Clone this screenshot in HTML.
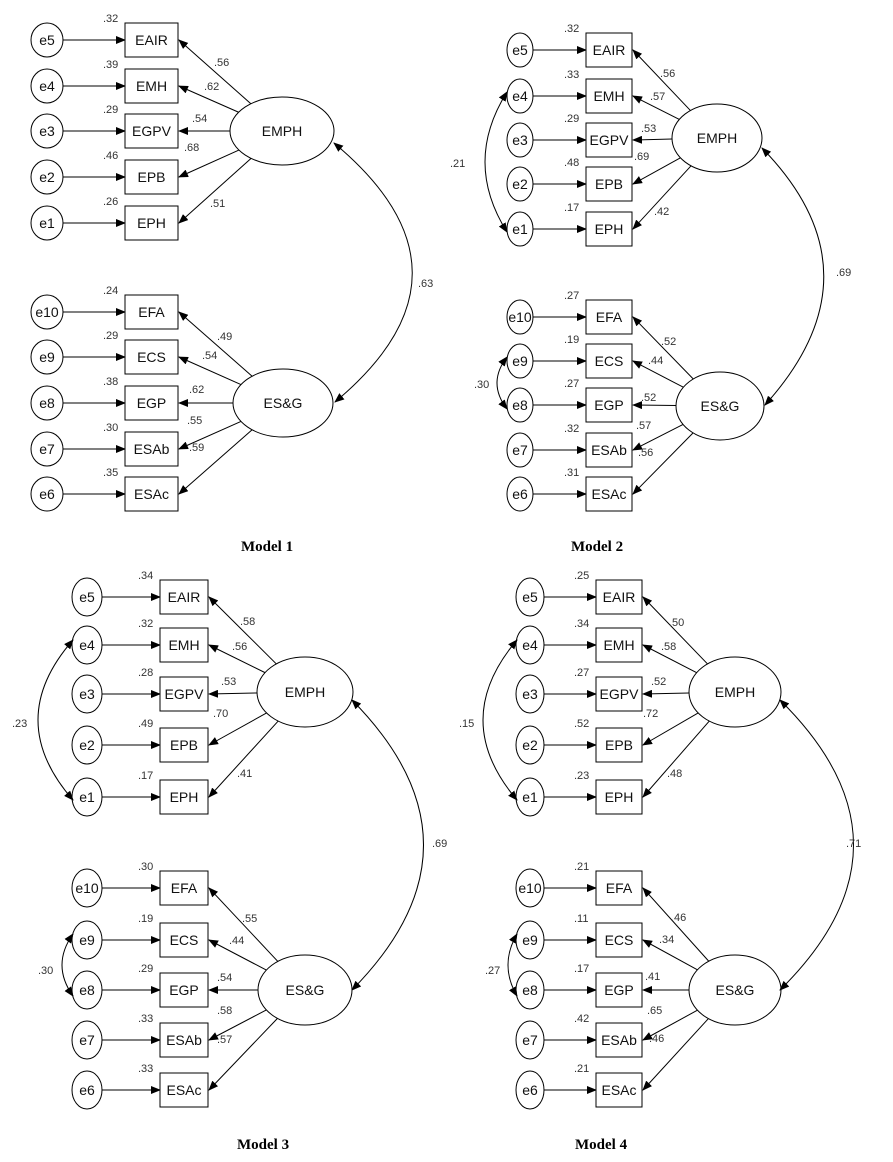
<!DOCTYPE html>
<html><head><meta charset="utf-8"><style>
html,body{margin:0;padding:0;background:#fff;}
svg{display:block;}
text{font-family:"Liberation Sans",Arial,sans-serif;fill:#111;}
.n{font-size:11px;fill:#333;}
.v{font-size:14px;}
.cap{font-family:"Liberation Serif",serif;font-weight:bold;font-size:15px;fill:#000;}
</style></head><body>
<svg id="s" width="893" height="1162" viewBox="0 0 893 1162" xmlns="http://www.w3.org/2000/svg">
<defs><marker id="a" markerWidth="10" markerHeight="8" refX="9" refY="4" orient="auto-start-reverse" markerUnits="userSpaceOnUse"><path d="M0,0 L10,4 L0,8 z" fill="#000"/></marker></defs>
<text class="cap" x="241" y="551">Model 1</text>
<text class="cap" x="571" y="551">Model 2</text>
<text class="cap" x="237" y="1149">Model 3</text>
<text class="cap" x="575" y="1149">Model 4</text>
</svg>
<script>
var s=document.getElementById('s'),NS='http://www.w3.org/2000/svg';
function el(t,a,txt){var e=document.createElementNS(NS,t);for(var k in a)e.setAttribute(k,a[k]);if(txt!==undefined)e.textContent=txt;s.appendChild(e);return e;}
var topN=['EAIR','EMH','EGPV','EPB','EPH'],botN=['EFA','ECS','EGP','ESAb','ESAc'];
var topE=['e5','e4','e3','e2','e1'],botE=['e10','e9','e8','e7','e6'];
function model(m){
 function grp(ys,names,es,lat,vars,loads,lname){
  for(var i=0;i<5;i++){
   var y=ys[i],bt=y-17;
   el('ellipse',{cx:m.ex,cy:y,rx:m.erx,ry:m.ery,fill:'#fff',stroke:'#000'});
   el('text',{x:m.ex,y:y+5,'text-anchor':'middle',class:'v'},es[i]);
   el('line',{x1:m.ex+m.erx,y1:y,x2:m.bx,y2:y,stroke:'#000','marker-end':'url(#a)'});
   el('rect',{x:m.bx,y:bt,width:m.bw,height:34,fill:'#fff',stroke:'#000'});
   el('text',{x:m.bx+m.bw/2,y:y+5,'text-anchor':'middle',class:'v'},names[i]);
   el('text',{x:m.bx-22,y:bt-1,class:'n'},vars[i]);
   // loading line
   var tx=m.bx+m.bw,ty=y,dx=tx-lat[0],dy=ty-lat[1];
   var t=1/Math.sqrt(Math.pow(dx/lat[2],2)+Math.pow(dy/lat[3],2));
   el('line',{x1:lat[0]+dx*t,y1:lat[1]+dy*t,x2:tx+1,y2:ty,stroke:'#000','marker-end':'url(#a)'});
   el('text',{x:loads[i][1],y:loads[i][2],class:'n'},loads[i][0]);
  }
  el('ellipse',{cx:lat[0],cy:lat[1],rx:lat[2],ry:lat[3],fill:'#fff',stroke:'#000'});
  el('text',{x:lat[0],y:lat[1]+5,'text-anchor':'middle',class:'v'},lname);
 }
 grp(m.ty,topN,topE,m.L1,m.tv,m.tl,'EMPH');
 grp(m.by,botN,botE,m.L2,m.bv,m.bl,'ES&G');
 m.arcs.forEach(function(a){
  el('path',{d:a[0],fill:'none',stroke:'#000','marker-start':'url(#a)','marker-end':'url(#a)'});
  el('text',{x:a[2],y:a[3],class:'n'},a[1]);
 });
}
model({ex:47,erx:16,ery:17,bx:125,bw:53,ty:[40,86,131,177,223],by:[312,357,403,449,494],
 L1:[282,131,52,34],L2:[283,403,50,34],
 tv:['.32','.39','.29','.46','.26'],bv:['.24','.29','.38','.30','.35'],
 tl:[['.56',214,66],['.62',204,90],['.54',192,122],['.68',184,151],['.51',210,207]],
 bl:[['.49',217,340],['.54',202,359],['.62',189,393],['.55',187,424],['.59',189,451]],
 arcs:[['M334,143 Q490,273 335,402','.63',418,287]]});
model({ex:520,erx:13,ery:17,bx:586,bw:46,ty:[50,96,140,184,229],by:[317,361,405,450,494],
 L1:[717,138,45,34],L2:[720,406,44,34],
 tv:['.32','.33','.29','.48','.17'],bv:['.27','.19','.27','.32','.31'],
 tl:[['.56',660,77],['.57',650,100],['.53',641,132],['.69',634,160],['.42',654,215]],
 bl:[['.52',661,345],['.44',648,364],['.52',641,401],['.57',636,429],['.56',638,456]],
 arcs:[['M762,148 Q884,273 765,405','.69',836,276],['M507,92 Q463,162 507,232','.21',450,167],['M507,357 Q487,383 507,409','.30',474,388]]});
model({ex:87,erx:15,ery:19,bx:160,bw:48,ty:[597,645,694,745,797],by:[888,940,990,1040,1090],
 L1:[305,692,48,35],L2:[305,990,47,35],
 tv:['.34','.32','.28','.49','.17'],bv:['.30','.19','.29','.33','.33'],
 tl:[['.58',240,625],['.56',232,650],['.53',221,685],['.70',213,717],['.41',237,777]],
 bl:[['.55',242,922],['.44',229,944],['.54',217,981],['.58',217,1014],['.57',217,1043]],
 arcs:[['M352,700 Q495,845 352,990','.69',432,847],['M73,640 Q3,720 73,800','.23',12,727],['M73,934 Q51,965 73,996','.30',38,974]]});
model({ex:530,erx:14,ery:19,bx:596,bw:46,ty:[597,645,694,745,797],by:[888,940,990,1040,1090],
 L1:[735,692,46,35],L2:[735,990,46,35],
 tv:['.25','.34','.27','.52','.23'],bv:['.21','.11','.17','.42','.21'],
 tl:[['.50',669,626],['.58',661,650],['.52',651,685],['.72',643,717],['.48',667,777]],
 bl:[['.46',671,921],['.34',659,943],['.41',645,980],['.65',647,1014],['.46',649,1042]],
 arcs:[['M780,700 Q927,845 780,990','.71',846,847],['M517,640 Q449,720 517,800','.15',459,727],['M517,934 Q499,965 517,996','.27',485,974]]});
</script>
</body></html>
